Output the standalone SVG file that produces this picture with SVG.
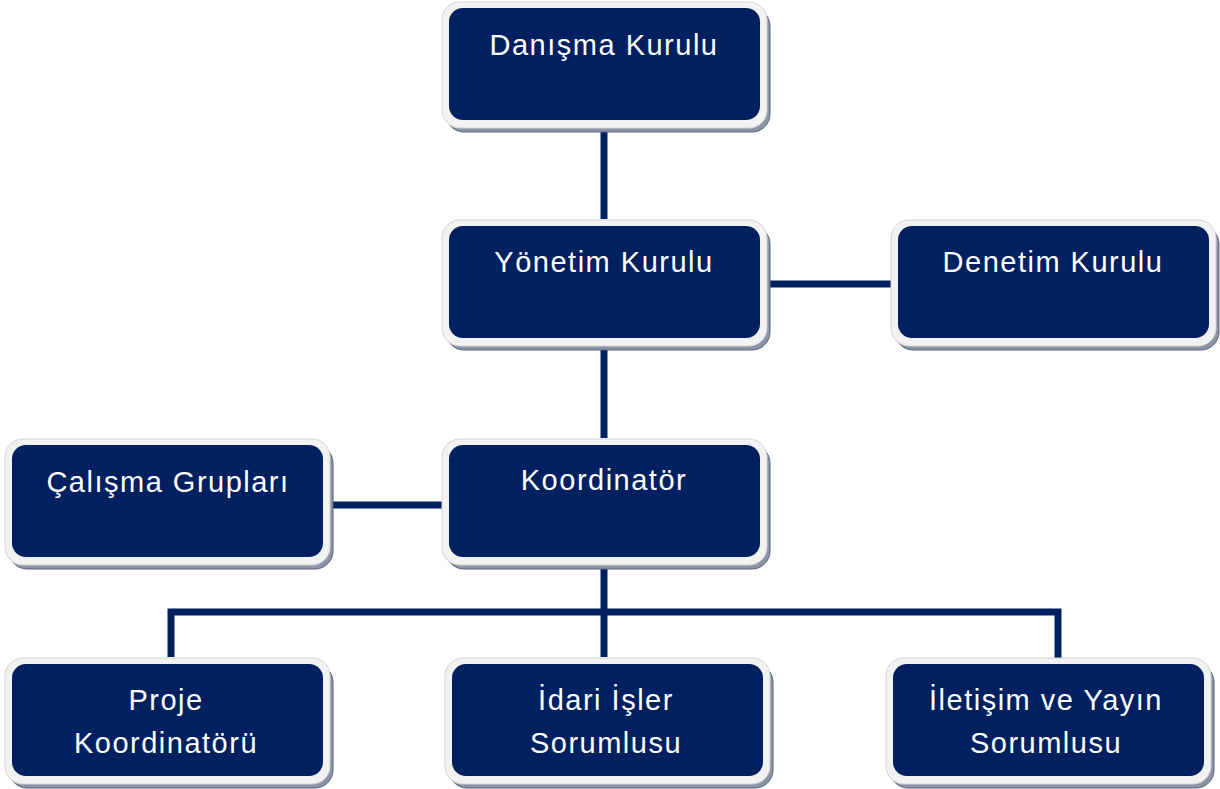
<svg xmlns="http://www.w3.org/2000/svg" width="1220" height="789" viewBox="0 0 1220 789">
<defs>
<style>
.sh{fill:#8a93a8;stroke:#5a6378;stroke-width:1}
.fr{fill:#f2f2f2;stroke:#d4d4d4;stroke-width:1}
.bx{fill:#002060}
.t{font-family:"Liberation Sans",Arial,sans-serif;font-size:29px;letter-spacing:1.5px;fill:#ffffff;text-anchor:middle}
.c{stroke:#002060;stroke-width:7;fill:none}
</style>
</defs>
<rect width="1220" height="789" fill="#ffffff"/>
<g id="connectors">
<line class="c" x1="604" y1="126" x2="604" y2="219"/>
<line class="c" x1="766" y1="284" x2="893" y2="284"/>
<line class="c" x1="604" y1="344" x2="604" y2="438"/>
<line class="c" x1="330" y1="505" x2="443" y2="505"/>
<line class="c" x1="604" y1="563" x2="604" y2="657"/>
<polyline class="c" points="171,657 171,612 1058,612 1058,660"/>
</g>
<g id="n-danisma">
<rect class="sh" x="446" y="8" width="324" height="124" rx="18"/>
<rect class="fr" x="442" y="2" width="325" height="126" rx="18"/>
<rect class="bx" x="449" y="8" width="311" height="112" rx="14"/>
<text class="t" x="604" y="55">Danışma Kurulu</text>
</g>
<g id="n-yonetim">
<rect class="sh" x="446" y="226" width="324" height="124" rx="18"/>
<rect class="fr" x="442" y="220" width="325" height="126" rx="18"/>
<rect class="bx" x="449" y="226" width="311" height="112" rx="14"/>
<text class="t" x="604" y="272">Yönetim Kurulu</text>
</g>
<g id="n-denetim">
<rect class="sh" x="895" y="226" width="324" height="124" rx="18"/>
<rect class="fr" x="891" y="220" width="325" height="126" rx="18"/>
<rect class="bx" x="898" y="226" width="311" height="112" rx="14"/>
<text class="t" x="1053" y="272">Denetim Kurulu</text>
</g>
<g id="n-calisma">
<rect class="sh" x="9" y="445" width="324" height="124" rx="18"/>
<rect class="fr" x="5" y="439" width="325" height="126" rx="18"/>
<rect class="bx" x="12" y="445" width="311" height="112" rx="14"/>
<text class="t" x="168" y="492">Çalışma Grupları</text>
</g>
<g id="n-koordinator">
<rect class="sh" x="446" y="445" width="324" height="124" rx="18"/>
<rect class="fr" x="442" y="439" width="325" height="126" rx="18"/>
<rect class="bx" x="449" y="445" width="311" height="112" rx="14"/>
<text class="t" x="604" y="490">Koordinatör</text>
</g>
<g id="n-proje">
<rect class="sh" x="9" y="664" width="324" height="124" rx="18"/>
<rect class="fr" x="5" y="658" width="325" height="126" rx="18"/>
<rect class="bx" x="12" y="664" width="311" height="112" rx="14"/>
<text class="t" x="166" y="710">Proje</text>
<text class="t" x="166" y="753">Koordinatörü</text>
</g>
<g id="n-idari">
<rect class="sh" x="449" y="664" width="324" height="124" rx="18"/>
<rect class="fr" x="445" y="658" width="325" height="126" rx="18"/>
<rect class="bx" x="452" y="664" width="311" height="112" rx="14"/>
<text class="t" x="606" y="710">İdari İşler</text>
<text class="t" x="606" y="753">Sorumlusu</text>
</g>
<g id="n-iletisim">
<rect class="sh" x="890" y="664" width="324" height="124" rx="18"/>
<rect class="fr" x="886" y="658" width="325" height="126" rx="18"/>
<rect class="bx" x="893" y="664" width="311" height="112" rx="14"/>
<text class="t" x="1046" y="710">İletişim ve Yayın</text>
<text class="t" x="1046" y="753">Sorumlusu</text>
</g>
</svg>
